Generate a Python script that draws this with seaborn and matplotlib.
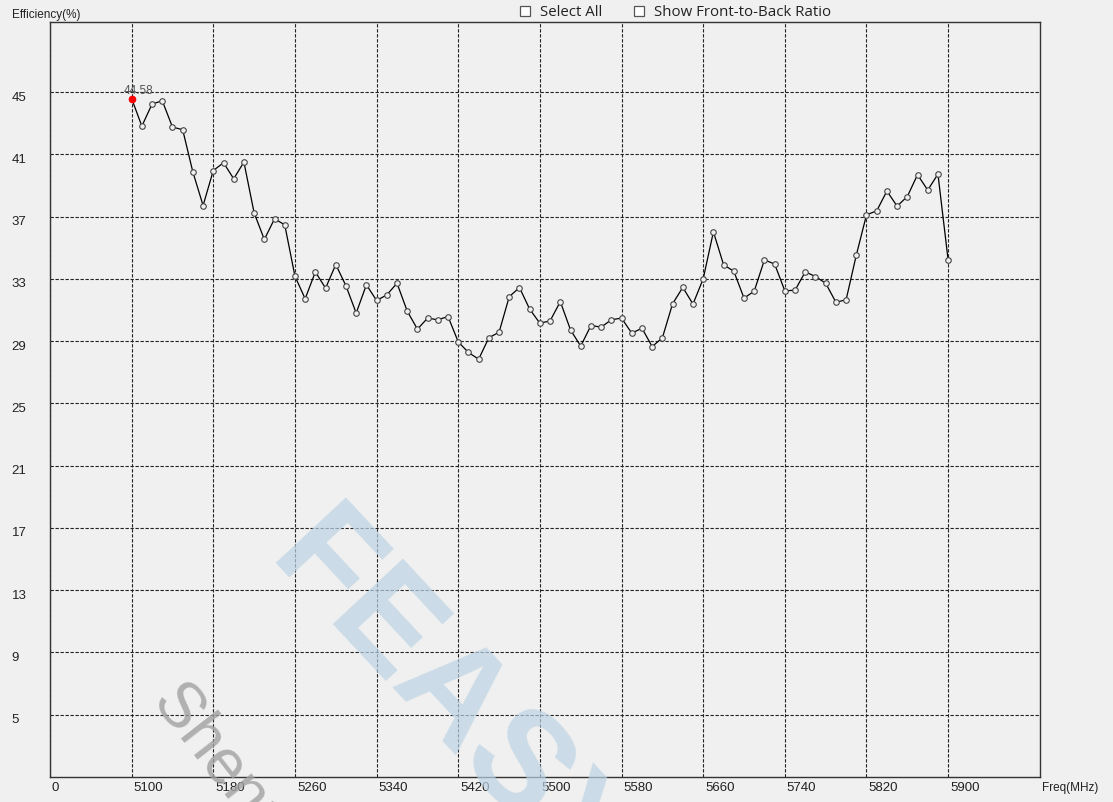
import numpy as np
import pandas as pd
import seaborn as sns
import matplotlib.pyplot as plt
import matplotlib.transforms as mtransforms
from matplotlib.patches import Rectangle

freq_mhz = [5100, 5110, 5120, 5130, 5140, 5150, 5160, 5170, 5180, 5190,
            5200, 5210, 5220, 5230, 5240, 5250, 5260, 5270, 5280, 5290,
            5300, 5310, 5320, 5330, 5340, 5350, 5360, 5370, 5380, 5390,
            5400, 5410, 5420, 5430, 5440, 5450, 5460, 5470, 5480, 5490,
            5500, 5510, 5520, 5530, 5540, 5550, 5560, 5570, 5580, 5590,
            5600, 5610, 5620, 5630, 5640, 5650, 5660, 5670, 5680, 5690,
            5700, 5710, 5720, 5730, 5740, 5750, 5760, 5770, 5780, 5790,
            5800, 5810, 5820, 5830, 5840, 5850, 5860, 5870, 5880, 5890,
            5900]
efficiency = [44.58, 42.81, 44.23, 44.44, 42.75, 42.58, 39.86, 37.71, 39.96, 40.46,
              39.43, 40.50, 37.24, 35.53, 36.86, 36.47, 33.17, 31.72, 33.45, 32.40,
              33.92, 32.55, 30.80, 32.62, 31.61, 31.97, 32.72, 30.93, 29.77, 30.48,
              30.37, 30.58, 28.95, 28.27, 27.84, 29.22, 29.57, 31.86, 32.44, 31.05,
              30.15, 30.30, 31.54, 29.72, 28.68, 30.00, 29.90, 30.37, 30.48, 29.51,
              29.83, 28.65, 29.21, 31.40, 32.45, 31.38, 33.00, 36.02, 33.90, 33.49,
              31.76, 32.21, 34.22, 33.95, 32.23, 32.27, 33.45, 33.15, 32.72, 31.50,
              31.65, 34.52, 37.11, 37.37, 38.64, 37.67, 38.29, 39.69, 38.70, 39.73,
              34.20]

x_ticks = [5020, 5100, 5180, 5260, 5340, 5420, 5500, 5580, 5660, 5740, 5820, 5900]
x_labels = ["0", "5100", "5180", "5260", "5340", "5420", "5500", "5580", "5660", "5740", "5820", "5900"]
y_ticks = [5, 9, 13, 17, 21, 25, 29, 33, 37, 41, 45]

marked_freq = 5100
marked_value = 44.58

df = pd.DataFrame({"Freq": freq_mhz, "Efficiency": efficiency})

bg = "#f0f0f0"
sns.set_style("white")
plt.rcParams["font.family"] = ["Liberation Sans", "DejaVu Sans"]

fig = plt.figure(figsize=(11.13, 8.03), dpi=100, facecolor=bg)
ax = fig.add_axes([50 / 1113, 1 - 778 / 803, 990 / 1113, 755 / 803])
ax.set_facecolor(bg)

# Marca de agua
fig.text(0.262, 0.33, "FEASYCOM", fontsize=100, fontweight="bold", color="#bcd3e4",
         alpha=0.7, rotation=-47, rotation_mode="anchor", ha="left", va="center", zorder=0)
fig.text(0.148, 0.14, "Shenzhen Feasycom", fontsize=46, color="#a0a0a0",
         alpha=0.8, rotation=-52, rotation_mode="anchor", ha="left", va="center", zorder=0)

sns.lineplot(data=df, x="Freq", y="Efficiency", ax=ax, color="black", linewidth=0.9,
             marker="o", markersize=4, markerfacecolor=bg, markeredgecolor="#444444",
             markeredgewidth=0.8, zorder=3)
ax.plot([marked_freq], [marked_value], "o", color="red", markersize=4.5, zorder=4)
ax.annotate(f"{marked_value:.2f}", (marked_freq, marked_value), xytext=(5, 2),
            textcoords="offset points", ha="center", va="bottom", fontsize=8.5, color="#555555")

ax.set_xlim(5020, 5990)
ax.set_ylim(1, 49.5)
ax.set_xticks(x_ticks)
ax.set_xticklabels(x_labels)
ax.set_yticks(y_ticks)
ax.set_xlabel("")
ax.set_ylabel("")

ax.grid(True, color="#222222", linestyle=(0, (3, 1.5)), linewidth=0.8)
ax.set_axisbelow(True)
for s in ax.spines.values():
    s.set_color("#333333")
    s.set_linewidth(1.0)

ax.tick_params(axis="both", length=0, labelsize=9.5, labelcolor="#222222")
ax.tick_params(axis="y", pad=27.5)
ax.tick_params(axis="x", pad=3)
for lab in ax.get_yticklabels():
    lab.set_horizontalalignment("left")
    lab.set_transform(lab.get_transform() + mtransforms.ScaledTranslation(0, -3 / 100, fig.dpi_scale_trans))
for lab in ax.get_xticklabels():
    lab.set_horizontalalignment("left")
    lab.set_transform(lab.get_transform() + mtransforms.ScaledTranslation(2 / 100, 0, fig.dpi_scale_trans))

fig.text(12 / 1113, 1 - 15 / 803, "Efficiency(%)", fontsize=8.5, color="#222222", va="center", ha="left")
fig.text(1042 / 1113, 1 - 788 / 803, "Freq(MHz)", fontsize=8.5, color="#222222", va="center", ha="left")

# Casillas de la parte superior
for bx, label in [(520, "Select All"), (634, "Show Front-to-Back Ratio")]:
    fig.patches.append(Rectangle((bx / 1113, 1 - 17 / 803), 10 / 1113, 10 / 803,
                                 transform=fig.transFigure, facecolor="white",
                                 edgecolor="#555555", linewidth=0.9))
    fig.text((bx + 20) / 1113, 1 - 12 / 803, label, fontsize=10.8, family=["Open Sans", "DejaVu Sans"],
             color="#222222", va="center", ha="left")

plt.savefig("out.png", dpi=100, facecolor=bg)
